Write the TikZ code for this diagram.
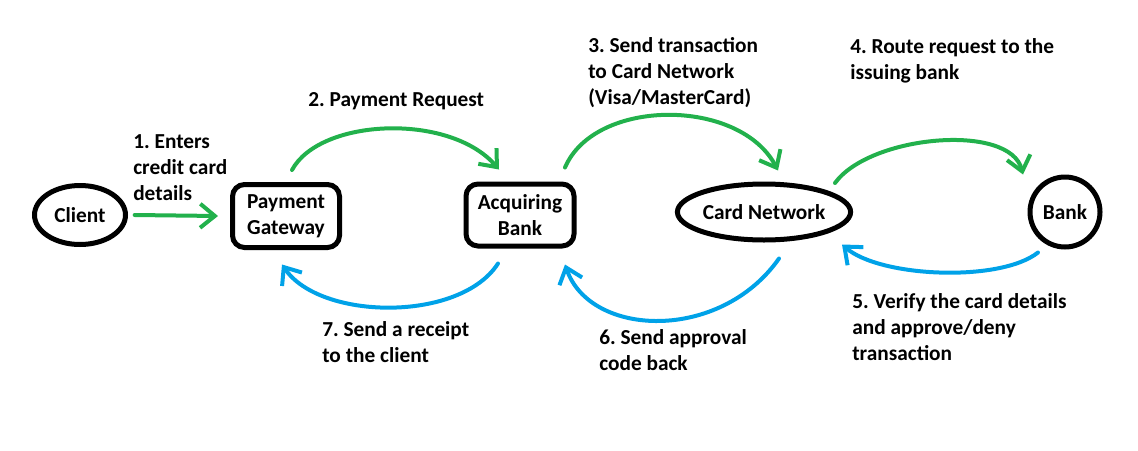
\documentclass[tikz,border=0pt]{standalone}
\usepackage{fontspec}
\setmainfont{Carlito}
\usepackage{tikz}
\usetikzlibrary{shapes.geometric,arrows.meta}
\definecolor{paintgreen}{HTML}{22B14C}
\definecolor{paintblue}{HTML}{00A2E8}
\frenchspacing
\tikzset{
  font={\fontsize{16pt}{19.5pt}\selectfont\bfseries}}

\begin{document}
\begin{tikzpicture}[x=0.75pt,y=-0.75pt,
  every node/.style={inner sep=0pt},
  party/.style={draw,line width=3.75pt,ellipse,align=center},
  stage/.style={draw,line width=3.75pt,rounded corners=9pt,align=center},
  note/.style={anchor=base west,align=left},
  fwd/.style={draw=paintgreen,line width=3pt,line cap=round,-{Straight Barb[length=11pt,width=18pt]}},
  bwd/.style={draw=paintblue,line width=3pt,line cap=round,-{Straight Barb[length=11pt,width=18pt]}}]
\useasboundingbox (0,0) rectangle (1138,450);
% the five parties
\node [party,minimum width=68.25pt,minimum height=44.25pt] (client) at (80,215) {Client};
\node [stage,minimum width=80.25pt,minimum height=47.25pt] (gateway) at (286,216) {Payment\\Gateway};
\node [stage,minimum width=81pt,minimum height=46.5pt] (acquirer) at (520,215) {Acquiring\\Bank};
\node [party,minimum width=125.25pt,minimum height=42pt] (network) at (764,212) {Card Network};
\node [party,circle,minimum size=52.5pt] (bank) at (1065,212) {Bank};
% request path
\draw [fwd] ([xshift=5]client.east) -- ([xshift=-9]gateway.west);
\draw [fwd] ([shift={(6,-12)}]gateway.north) .. controls +(28,-52) and +(-49,-57) .. ([shift={(-21,-12)}]acquirer.north);
\draw [fwd] ([shift={(45,-14)}]acquirer.north) .. controls +(30,-70) and +(-38,-73) .. ([shift={(14,-11)}]network.north);
\draw [fwd] ([shift={(71,-29)}]network.center) .. controls +(35,-48) and +(-13,-52) .. ([shift={(-42,0)}]bank.north);
% answer path
\draw [bwd] ([shift={(-27,3)}]bank.south) .. controls +(-38,30) and +(38,33) .. ([shift={(78,2)}]network.south);
\draw [bwd] ([shift={(15,16)}]network.south) .. controls +(-59,84) and +(25,73) .. ([shift={(45,16)}]acquirer.south);
\draw [bwd] ([shift={(-22,15)}]acquirer.south) .. controls +(-38,59) and +(38,56) .. ([shift={(-4,14.5)}]gateway.south);
% step texts, placed at the base of their last line
\node [note] (t1) at (133,200) {1. Enters\\credit card\\details};
\node [note] (t2) at (308,106) {2. Payment Request};
\node [note] (t3) at (588,104) {3. Send transaction\\to Card Network\\(Visa/MasterCard)};
\node [note] (t4) at (850,79) {4. Route request to the\\issuing bank};
\node [note] (t5) at (852,360) {5. Verify the card details\\and approve/deny\\transaction};
\node [note] (t6) at (599,370) {6. Send approval\\code back};
\node [note] (t7) at (322,362) {7. Send a receipt\\to the client};
\end{tikzpicture}
\end{document}
